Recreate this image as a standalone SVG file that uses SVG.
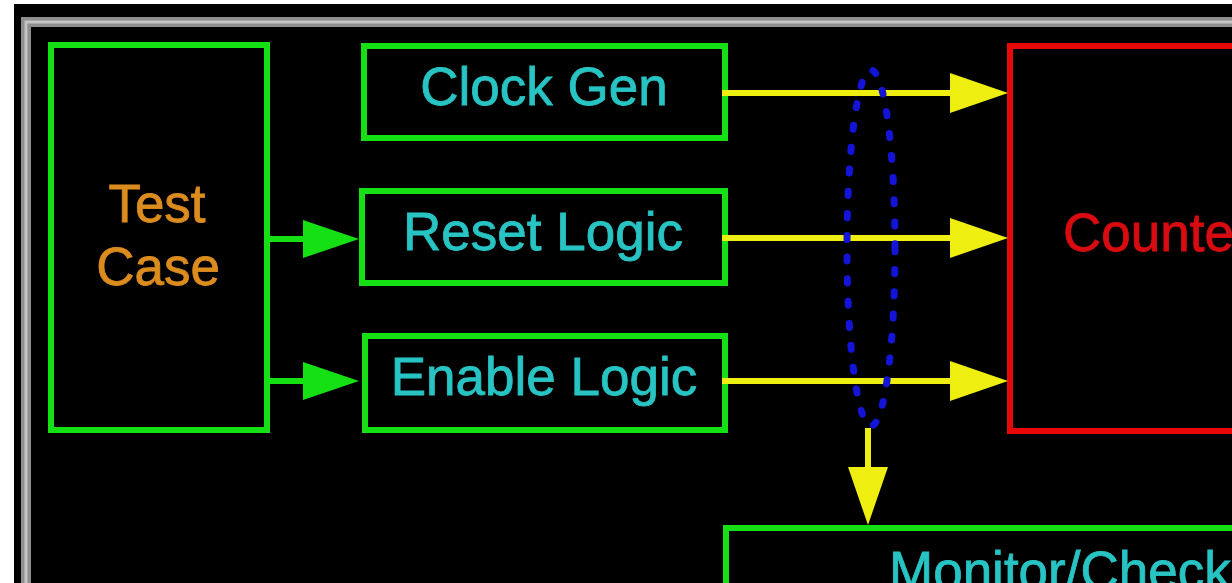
<svg xmlns="http://www.w3.org/2000/svg" width="1232" height="583" viewBox="0 0 1232 583">
  <defs>
    <style>
      .box { fill: #000; stroke: #14e014; stroke-width: 6; }
      .red { fill: #000; stroke: #e80808; stroke-width: 6; }
      .lbl { font-family: "Liberation Sans", Arial, sans-serif; font-size: 53px; text-anchor: middle; stroke-width: 0.8; }
      .cyan { fill: #28c4c4; stroke: #28c4c4; }
      .orange { fill: #dc8c1e; stroke: #dc8c1e; }
      .redtxt { fill: #d80c10; stroke: #d80c10; }
      .gline { stroke: #14e014; stroke-width: 6; fill: none; }
      .yline { stroke: #eeee10; stroke-width: 6; fill: none; }
    </style>
  </defs>
  <rect x="0" y="0" width="1232" height="583" fill="#ffffff"/>
  <rect x="14" y="4" width="1218" height="579" fill="#000000"/>
  <g id="frame">
    <rect x="26" y="22" width="1300" height="700" fill="none" stroke="#8e8e8e" stroke-width="10"/>
    <rect x="26" y="22" width="1300" height="700" fill="none" stroke="#c4c4c4" stroke-width="3"/>
  </g>

  <g id="test-case">
    <rect class="box" x="51" y="45" width="216" height="385"/>
    <text class="lbl orange" x="157" y="222">Test</text>
    <text class="lbl orange" x="158" y="285">Case</text>
  </g>
  <g id="clock-gen">
    <rect class="box" x="364" y="46" width="361" height="92"/>
    <text class="lbl cyan" x="544" y="105">Clock Gen</text>
  </g>
  <g id="reset-logic">
    <rect class="box" x="362" y="191" width="363" height="92"/>
    <text class="lbl cyan" x="543" y="250">Reset Logic</text>
  </g>
  <g id="enable-logic">
    <rect class="box" x="365" y="336" width="360" height="94"/>
    <text class="lbl cyan" x="544" y="395">Enable Logic</text>
  </g>
  <g id="counter">
    <rect class="red" x="1010" y="46" width="300" height="385"/>
    <text class="lbl redtxt" x="1063" y="251" style="text-anchor:start">Counte</text>
  </g>
  <g id="monitor">
    <rect class="box" x="726" y="528" width="600" height="120"/>
    <text class="lbl cyan" x="889" y="589" style="text-anchor:start">Monitor/Check</text>
  </g>

  <g id="connectors">
    <line class="gline" x1="267" y1="239" x2="305" y2="239"/>
    <polygon points="303,220 359,239 303,258" fill="#14e014"/>
    <line class="gline" x1="267" y1="381" x2="305" y2="381"/>
    <polygon points="303,362 359,381 303,400" fill="#14e014"/>

    <line class="yline" x1="722" y1="93" x2="952" y2="93"/>
    <polygon points="950,73 1008,93 950,113" fill="#eeee10"/>
    <line class="yline" x1="722" y1="238" x2="952" y2="238"/>
    <polygon points="950,218 1008,238 950,258" fill="#eeee10"/>
    <line class="yline" x1="722" y1="381" x2="952" y2="381"/>
    <polygon points="950,361 1008,381 950,401" fill="#eeee10"/>

    <line class="yline" x1="868" y1="428" x2="868" y2="469"/>
    <polygon points="848,467 888,467 868,525" fill="#eeee10"/>

    <ellipse cx="871" cy="248" rx="24" ry="178" fill="none" stroke="#1414d8" stroke-width="7" stroke-dasharray="4 18" stroke-linecap="round"/>
  </g>
</svg>
